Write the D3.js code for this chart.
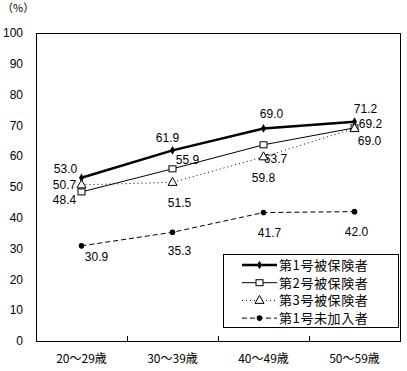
<!DOCTYPE html>
<html>
<head>
<meta charset="utf-8">
<script src="https://cdn.jsdelivr.net/npm/d3@7"></script>
<style>
    body { margin: 0; background: #fff; }
    svg { display: block; }
    text { font-family: "Noto Sans CJK JP", "Liberation Sans", sans-serif; fill: #000; }
    text.num { font-family: "Liberation Sans", "DejaVu Sans", sans-serif; }
</style>
</head>
<body>
<svg id="chart" width="407" height="371"></svg>
<script>
// age groups on the x axis
var categories = ["20～29歳", "30～39歳", "40～49歳", "50～59歳"];
var yTicks = [0, 10, 20, 30, 40, 50, 60, 70, 80, 90, 100];

var seriesNames = ["第1号被保険者", "第2号被保険者", "第3号被保険者", "第1号未加入者"];
var type1Values = [53.0, 61.9, 69.0, 71.2];
var type2Values = [48.4, 55.9, 63.7, 69.2];
var type3Values = [50.7, 51.5, 59.8, 69.0];
var unenrolledValues = [30.9, 35.3, 41.7, 42.0];

// where each value label sits relative to its point, in px
var labelOffsets = [
    [[-16, -9], [-5, -13], [8, -15], [11, -13]],
    [[-17, 8], [15, -9], [12, 14], [16, -4]],
    [[-17, 0], [7, 20], [0, 21], [15, 12]],
    [[15, 11], [7, 19], [6, 20], [2, 20]]
];

function drawChart() {
    var svg = d3.select("#chart");
    var left = 36, right = 400, top = 33, bottom = 341;

    var x = d3.scaleBand().domain(categories).range([left, right]);
    var y = d3.scaleLinear().domain([0, 100]).range([bottom, top]);

    var series = [
        { name: seriesNames[0], values: type1Values, width: 2.5, dash: null, marker: "diamond" },
        { name: seriesNames[1], values: type2Values, width: 1, dash: null, marker: "square" },
        { name: seriesNames[2], values: type3Values, width: 1, dash: "1,3", marker: "triangle" },
        { name: seriesNames[3], values: unenrolledValues, width: 1, dash: "5,3", marker: "circle" }
    ];

    // plot frame
    svg.append("rect")
        .attr("x", left + 0.5).attr("y", top + 0.5)
        .attr("width", right - left).attr("height", bottom - top)
        .attr("fill", "none").attr("stroke", "#000");

    // y axis labels
    svg.selectAll(".ytick").data(yTicks).enter().append("text")
        .attr("class", "num")
        .attr("x", 23).attr("y", function (d) { return y(d); })
        .attr("dy", "0.35em").attr("text-anchor", "end")
        .attr("font-size", 12)
        .text(function (d) { return d; });

    svg.append("text").attr("x", 2).attr("y", 12)
        .attr("font-size", 11).text("（%）");

    // x axis: inward ticks at category boundaries
    svg.selectAll(".xtick").data(categories.slice(1)).enter().append("line")
        .attr("x1", function (d) { return Math.round(x(d)) + 0.5; })
        .attr("x2", function (d) { return Math.round(x(d)) + 0.5; })
        .attr("y1", bottom).attr("y2", bottom - 5)
        .attr("stroke", "#000");

    svg.selectAll(".xlabel").data(categories).enter().append("text")
        .attr("x", function (d) { return x(d) + x.bandwidth() / 2; })
        .attr("y", 359).attr("dy", "0.35em")
        .attr("text-anchor", "middle").attr("font-size", 12)
        .text(function (d) { return d; });

    var cx = function (i) { return x(categories[i]) + x.bandwidth() / 2; };

    var line = d3.line()
        .x(function (d, i) { return cx(i); })
        .y(function (d) { return y(d); });

    series.forEach(function (s, si) {
        svg.append("path")
            .datum(s.values)
            .attr("d", line)
            .attr("fill", "none")
            .attr("stroke", "#000")
            .attr("stroke-width", s.width)
            .attr("stroke-dasharray", s.dash);

        s.values.forEach(function (v, i) {
            drawMarker(svg, s.marker, cx(i), y(v));
            svg.append("text")
                .attr("class", "num")
                .attr("x", cx(i) + labelOffsets[si][i][0])
                .attr("y", y(v) + labelOffsets[si][i][1])
                .attr("dy", "0.35em").attr("text-anchor", "middle")
                .attr("font-size", 12)
                .text(v.toFixed(1));
        });
    });

    // legend
    var lg = svg.append("g");
    lg.append("rect")
        .attr("x", 223.5).attr("y", 254.5).attr("width", 175).attr("height", 73)
        .attr("fill", "#fff").attr("stroke", "#000");

    series.forEach(function (s, i) {
        var ly = 265 + i * 17.7;
        lg.append("line")
            .attr("x1", 242).attr("x2", 277).attr("y1", ly).attr("y2", ly)
            .attr("stroke", "#000")
            .attr("stroke-width", s.width)
            .attr("stroke-dasharray", s.dash);
        drawMarker(lg, s.marker, 259.5, ly);
        lg.append("text")
            .attr("x", 279).attr("y", ly).attr("dy", "0.38em")
            .attr("font-size", 13).attr("letter-spacing", 0.6)
            .text(s.name);
    });
}

function drawMarker(g, type, px, py) {
    if (type === "diamond") {
        g.append("path")
            .attr("d", d3.symbol(d3.symbolDiamond, 22)())
            .attr("transform", "translate(" + px + "," + py + ")")
            .attr("fill", "#000");
    } else if (type === "square") {
        g.append("rect")
            .attr("x", px - 3.5).attr("y", py - 3).attr("width", 7).attr("height", 6)
            .attr("fill", "#fff").attr("stroke", "#000");
    } else if (type === "triangle") {
        g.append("path")
            .attr("d", "M" + px + "," + (py - 5) + "L" + (px + 4.5) + "," + (py + 3) + "L" + (px - 4.5) + "," + (py + 3) + "Z")
            .attr("fill", "#fff").attr("stroke", "#000");
    } else {
        g.append("circle")
            .attr("cx", px).attr("cy", py).attr("r", 2.8)
            .attr("fill", "#000");
    }
}

drawChart();
</script>
</body>
</html>
